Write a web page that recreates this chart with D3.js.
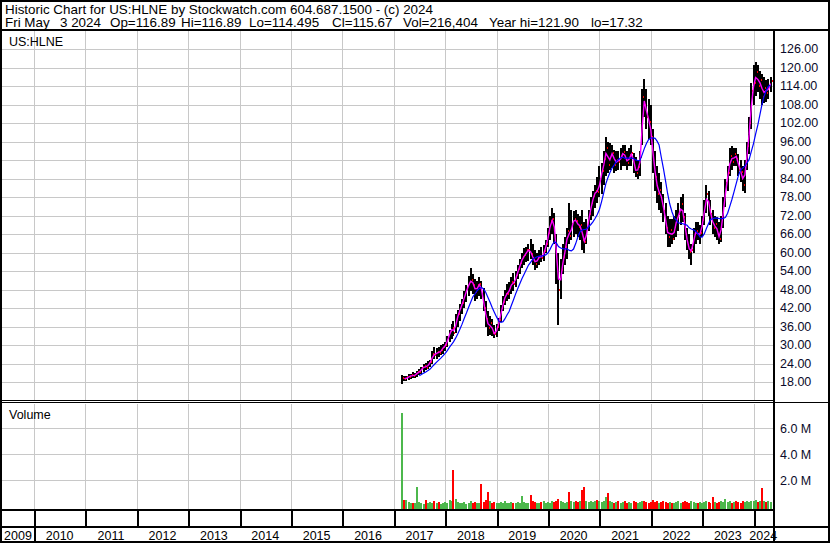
<!DOCTYPE html>
<html>
<head>
<meta charset="utf-8">
<script src="https://cdn.jsdelivr.net/npm/d3@7"></script>
<style>
  body { margin: 0; background: #fff; }
  svg text { font-family: "Liberation Sans", Arial, sans-serif; font-size: 12.5px; fill: #000; }
</style>
</head>
<body>
<div id="chart"></div>
<script>
// ---- data (semi-monthly bars, 1st and 16th, from Mar 2017) ----
var yearLabels = [2009, 2010, 2011, 2012, 2013, 2014, 2015, 2016, 2017, 2018, 2019, 2020, 2021, 2022, 2023, 2024];
var priceTicks = [18, 24, 30, 36, 42, 48, 54, 60, 66, 72, 78, 84, 90, 96, 102, 108, 114, 120, 126];
var volumeTicks = [2, 4, 6];   // millions
var firstBar = [2017, 2];      // year, month index of the first bar

var highs = [
  20.3, 20.0, 20.2, 20.6, 20.8, 21.2, 21.0, 21.8, 22.3, 23.0, 24.0, 24.2, 24.8, 25.2, 28.0, 29.5, 29.0, 29.6, 30.0, 30.4,
  31.0, 33.0, 35.0, 37.0, 38.0, 40.0, 41.5, 43.5, 45.0, 47.5, 49.5, 52.5, 55.0, 53.0, 51.5, 51.0, 52.0, 51.0, 48.5, 44.5, 41.0, 39.5, 38.5, 36.5,
  37.0, 39.0, 43.0, 46.0, 48.0, 50.0, 50.5, 52.0, 53.5, 54.0, 56.0, 58.0, 60.0, 61.5, 62.0, 63.0, 64.5, 63.0, 61.0, 60.0, 61.0, 62.0, 62.5, 64.0,
  68.0, 72.0, 74.5, 73.0, 66.0, 60.0, 58.0, 63.0, 65.0, 68.0, 76.0, 74.0, 73.5, 74.0, 72.5, 72.0, 74.0, 70.0, 71.0, 74.0, 78.0, 80.0, 82.0, 84.6,
  88.0, 89.0, 93.0, 97.4, 96.0, 95.5, 95.0, 93.5, 93.0, 93.0, 94.0, 95.0, 95.0, 93.0, 94.0, 95.0, 92.5, 91.0, 90.0, 93.0, 113.0, 116.3, 113.0, 110.0,
  108.0, 100.0, 93.0, 88.0, 86.0, 83.0, 79.0, 76.0, 72.0, 71.0, 71.0, 72.0, 74.0, 76.0, 78.0, 79.0, 73.0, 68.0, 66.0, 63.0, 68.0, 70.0, 70.0, 69.0,
  72.0, 77.0, 82.0, 80.0, 77.0, 74.0, 72.0, 71.5, 70.0, 72.0, 78.0, 84.0, 88.0, 94.0, 94.5, 94.0, 94.0, 92.0, 90.0, 88.0, 90.0, 96.0, 104.0, 115.0,
  121.0, 121.9, 121.0, 119.0, 118.0, 117.0, 116.0, 116.5, 116.9
];
var lows = [
  17.3, 18.4, 18.5, 18.9, 19.2, 19.4, 19.3, 19.8, 20.4, 20.8, 21.5, 22.0, 22.4, 23.0, 24.0, 25.6, 25.5, 26.2, 26.8, 27.2,
  28.0, 29.5, 31.0, 32.0, 33.0, 34.0, 36.0, 38.0, 40.0, 42.0, 44.0, 46.0, 47.5, 46.5, 44.5, 45.0, 46.0, 45.0, 41.0, 36.0, 33.0, 33.5, 33.0, 32.3,
  32.6, 34.5, 37.5, 41.0, 43.0, 44.5, 45.0, 46.5, 47.5, 49.0, 51.5, 53.0, 55.0, 56.0, 57.0, 57.5, 58.0, 56.0, 54.5, 55.0, 56.0, 57.0, 57.5, 60.0,
  62.0, 64.0, 66.0, 63.0, 50.0, 36.5, 45.0, 53.0, 56.0, 58.0, 63.0, 64.0, 65.0, 66.0, 65.0, 64.0, 61.0, 60.0, 63.0, 67.0, 70.5, 72.0, 74.5, 76.0,
  78.0, 79.0, 82.0, 85.0, 86.0, 87.0, 87.5, 86.0, 86.5, 87.0, 87.0, 88.0, 88.0, 87.0, 88.0, 88.0, 86.0, 84.5, 84.0, 85.0, 95.0, 104.0, 100.0, 97.0,
  95.0, 86.0, 80.0, 76.0, 74.0, 73.0, 70.0, 66.0, 62.0, 62.0, 63.0, 64.0, 65.0, 67.0, 69.0, 70.0, 64.0, 61.0, 58.0, 56.0, 60.0, 63.0, 64.0, 63.0,
  65.0, 69.0, 73.0, 72.0, 69.0, 66.0, 65.0, 64.0, 63.0, 63.5, 68.0, 75.0, 80.0, 85.0, 87.0, 88.0, 88.0, 85.0, 83.0, 80.0, 79.3, 87.0, 92.0, 100.0,
  108.0, 111.0, 112.0, 110.0, 108.0, 108.5, 109.0, 110.0, 112.0
];
var closes = [
  19.4, 19.0, 19.6, 19.8, 20.3, 20.0, 20.6, 21.2, 21.5, 22.6, 23.2, 22.8, 24.1, 24.6, 27.2, 26.8, 27.9, 27.5, 28.6, 29.5,
  30.2, 32.4, 34.5, 35.6, 34.0, 38.5, 40.2, 42.6, 43.8, 46.8, 48.2, 50.4, 51.2, 49.5, 47.2, 49.6, 49.8, 46.5, 42.0, 38.5, 35.5, 37.2, 34.0, 33.6,
  35.8, 38.2, 42.0, 44.2, 46.5, 46.8, 48.5, 50.6, 49.8, 52.8, 54.6, 56.8, 58.5, 59.2, 60.8, 61.0, 59.5, 57.8, 56.5, 58.2, 59.0, 58.4, 60.6, 62.8,
  66.5, 70.2, 71.0, 65.5, 55.0, 48.0, 54.5, 58.5, 62.0, 67.0, 65.5, 69.5, 71.0, 70.2, 68.4, 69.0, 64.0, 63.5, 68.0, 72.5, 76.0, 78.5, 80.2, 79.6,
  84.0, 86.5, 90.5, 94.0, 88.5, 91.8, 92.5, 88.6, 90.2, 89.5, 91.5, 92.8, 90.5, 89.2, 91.6, 92.4, 87.6, 86.0, 87.8, 91.0, 110.5, 108.0, 104.2, 102.5,
  97.5, 88.0, 84.5, 79.0, 80.5, 76.2, 73.5, 68.2, 65.0, 67.5, 64.6, 68.5, 71.2, 72.5, 75.8, 71.5, 66.2, 62.5, 60.2, 61.0, 66.2, 67.0, 65.5, 66.5,
  70.8, 75.5, 79.2, 74.0, 72.5, 68.0, 69.5, 66.0, 64.5, 70.5, 76.2, 82.5, 86.0, 91.5, 89.6, 92.0, 90.5, 87.0, 86.2, 82.0, 88.5, 94.8, 102.0, 112.5,
  115.2, 118.5, 114.0, 116.2, 110.5, 113.5, 111.8, 114.2, 115.67
];
var volumes = [
  7.2, 0.45, 0.5, 0.3, 0.2, 0.25, 0.2, 1.5, 0.3, 0.2, 0.15, 0.45, 0.2, 0.3, 0.25, 0.35, 0.2, 0.3, 0.15, 0.25,
  0.3, 0.2, 0.45, 0.35, 2.8, 0.55, 0.3, 0.25, 0.2, 0.3, 0.15, 0.25, 0.35, 0.2, 0.3, 0.2, 0.25, 1.7, 0.3, 0.45, 1.1, 0.35, 0.25, 0.3,
  0.25, 0.2, 0.3, 0.2, 0.35, 0.25, 0.2, 0.3, 0.2, 0.25, 0.3, 0.2, 0.75, 0.3, 0.2, 0.25, 0.85, 0.4, 0.3, 0.25, 0.2, 0.3, 0.35, 0.25,
  0.3, 0.25, 0.35, 0.3, 0.4, 0.55, 0.35, 0.3, 0.25, 0.3, 1.1, 0.35, 0.3, 0.4, 0.3, 0.35, 1.2, 1.5, 0.4, 0.3, 0.35, 0.3, 0.4, 0.5,
  0.35, 0.3, 0.4, 0.7, 1.0, 0.35, 0.3, 0.25, 0.3, 0.35, 0.25, 0.3, 0.35, 0.2, 0.3, 0.25, 0.35, 0.3, 0.25, 0.3, 0.4, 0.35, 0.3, 0.25,
  0.3, 0.45, 0.3, 0.35, 0.25, 0.3, 0.35, 0.3, 0.25, 0.3, 0.2, 0.25, 0.3, 0.35, 0.25, 0.3, 0.35, 0.3, 0.25, 0.35, 0.3, 0.25, 0.2, 0.3,
  0.25, 0.3, 0.35, 0.3, 0.25, 0.7, 0.3, 0.25, 0.3, 0.35, 0.3, 0.55, 0.3, 0.35, 0.25, 0.3, 0.35, 0.3, 0.25, 0.4, 0.3, 0.35, 0.3, 0.4,
  0.35, 0.45, 0.3, 0.4, 1.4, 0.35, 0.3, 0.35, 0.3
];

var headerLine1 = "Historic Chart for US:HLNE by Stockwatch.com 604.687.1500 - (c) 2024";
var headerLine2 = [["Fri May", 5], ["3 2024", 60], ["Op=116.89", 110], ["Hi=116.89", 181],
  ["Lo=114.495", 249], ["Cl=115.67", 332], ["Vol=216,404", 403], ["Year hi=121.90", 489], ["lo=17.32", 591]];

// ---- layout ----
var svgWidth = 830, svgHeight = 543;
var plotLeft = 2, plotRight = 773;
var priceTop = 31, priceBottom = 400;
var volTop = 404, volBottom = 509;

var svg = d3.select("#chart").append("svg")
  .attr("width", svgWidth)
  .attr("height", svgHeight)
  .style("display", "block");

svg.append("rect").attr("width", svgWidth).attr("height", svgHeight).attr("fill", "#fff");

var bars = highs.map(function (h, i) {
  return {
    date: new Date(firstBar[0], firstBar[1] + Math.floor(i / 2), i % 2 ? 16 : 1),
    high: h, low: lows[i], close: closes[i], volume: volumes[i] * 1e6,
    up: i === 0 ? true : closes[i] >= closes[i - 1]
  };
});

function movingAverage(n) {
  var out = [];
  bars.forEach(function (d, i) {
    if (i < n - 1) return;
    out.push({ date: d.date, value: d3.mean(bars.slice(i - n + 1, i + 1), b => b.close) });
  });
  return out;
}

var x = d3.scaleTime()
  .domain([new Date(2010, 0, 1), new Date(2024, 0, 1)])
  .range([34, 753.5]);
var y = d3.scaleLinear().domain([18, 126]).range([382.3, 49.3]);
var yVol = d3.scaleLinear().domain([0, 6e6]).range([506, 428.3]);

var yearStarts = d3.range(2010, 2025).map(yr => new Date(yr, 0, 1));

// clip paths
var defs = svg.append("defs");
defs.append("clipPath").attr("id", "clipPrice").append("rect")
  .attr("x", plotLeft).attr("y", priceTop).attr("width", plotRight - plotLeft).attr("height", priceBottom - priceTop);

// ---- grid ----
var grid = svg.append("g").attr("stroke", "#c8c8c8").attr("stroke-width", 1).attr("shape-rendering", "crispEdges");
yearStarts.forEach(function (d) {
  var gx = Math.round(x(d)) + 0.5;
  grid.append("line").attr("x1", gx).attr("x2", gx).attr("y1", priceTop).attr("y2", priceBottom);
  grid.append("line").attr("x1", gx).attr("x2", gx).attr("y1", volTop).attr("y2", volBottom);
});
priceTicks.forEach(function (p) {
  var gy = Math.round(y(p)) + 0.5;
  grid.append("line").attr("x1", plotLeft).attr("x2", plotRight).attr("y1", gy).attr("y2", gy);
});
volumeTicks.forEach(function (v) {
  var gy = Math.round(yVol(v * 1e6)) + 0.5;
  grid.append("line").attr("x1", plotLeft).attr("x2", plotRight).attr("y1", gy).attr("y2", gy);
});

// ---- price bars ----
var price = svg.append("g").attr("clip-path", "url(#clipPrice)").attr("shape-rendering", "crispEdges");
price.selectAll("rect.bar").data(bars).enter().append("rect")
  .attr("class", "bar")
  .attr("x", d => Math.round(x(d.date)) - 1)
  .attr("y", d => Math.round(y(d.high)))
  .attr("width", 2)
  .attr("height", d => Math.max(1, Math.round(y(d.low)) - Math.round(y(d.high))))
  .attr("fill", "#000");
price.selectAll("rect.tick").data(bars).enter().append("rect")
  .attr("class", "tick")
  .attr("x", d => Math.round(x(d.date)) + 1)
  .attr("y", d => Math.round(y(d.close)) - 1)
  .attr("width", 1)
  .attr("height", 2)
  .attr("fill", "#ff0000");

var line = d3.line().x(d => x(d.date)).y(d => y(d.value));
price.append("path").datum(movingAverage(2))
  .attr("d", line).attr("fill", "none").attr("stroke", "#ff00ff").attr("stroke-width", 1.4)
  .attr("shape-rendering", "auto");
price.append("path").datum(movingAverage(9))
  .attr("d", line).attr("fill", "none").attr("stroke", "#0000ff").attr("stroke-width", 1.2)
  .attr("shape-rendering", "auto");

// ---- volume bars ----
svg.append("g").attr("shape-rendering", "crispEdges")
  .selectAll("rect").data(bars).enter().append("rect")
  .attr("x", d => Math.round(x(d.date)) - 1)
  .attr("y", d => Math.round(yVol(d.volume)))
  .attr("width", 2)
  .attr("height", d => volBottom - Math.round(yVol(d.volume)))
  .attr("fill", d => d.up ? "#4cb84c" : "#ff0000");

// ---- frame lines ----
var frame = svg.append("g").attr("stroke", "#000").attr("shape-rendering", "crispEdges");
frame.append("rect").attr("x", 1).attr("y", 1).attr("width", svgWidth - 2).attr("height", svgHeight - 2)
  .attr("fill", "none").attr("stroke-width", 2);
frame.append("line").attr("x1", 0).attr("x2", svgWidth).attr("y1", 30).attr("y2", 30).attr("stroke-width", 2);
frame.append("line").attr("x1", 774).attr("x2", 774).attr("y1", 30).attr("y2", svgHeight).attr("stroke-width", 2);
frame.append("line").attr("x1", 0).attr("x2", 774).attr("y1", 400.5).attr("y2", 400.5).attr("stroke-width", 1);
frame.append("line").attr("x1", 0).attr("x2", svgWidth).attr("y1", 402.5).attr("y2", 402.5).attr("stroke-width", 1);
frame.append("line").attr("x1", 0).attr("x2", 774).attr("y1", 510).attr("y2", 510).attr("stroke-width", 2);
frame.append("line").attr("x1", 0).attr("x2", svgWidth).attr("y1", 527).attr("y2", 527).attr("stroke-width", 2);
yearStarts.forEach(function (d) {
  var gx = Math.round(x(d)) + 0.5;
  frame.append("line").attr("x1", gx).attr("x2", gx).attr("y1", 510).attr("y2", 527).attr("stroke-width", 2);
});
frame.append("line").attr("x1", Math.round(x(yearStarts[0])) + 0.5).attr("x2", Math.round(x(yearStarts[0])) + 0.5)
  .attr("y1", 527).attr("y2", svgHeight).attr("stroke-width", 2);

// ---- text ----
svg.append("text").attr("x", 5).attr("y", 13.5).style("font-size", "13.4px").text(headerLine1);
svg.selectAll("text.h2").data(headerLine2).enter().append("text")
  .attr("class", "h2").attr("x", d => d[1]).attr("y", 27).style("font-size", "13.4px")
  .style("white-space", "pre").text(d => d[0]);

svg.append("text").attr("x", 9).attr("y", 46).text("US:HLNE");
svg.append("text").attr("x", 9).attr("y", 418.5).text("Volume");

svg.selectAll("text.pt").data(priceTicks).enter().append("text")
  .attr("class", "pt").attr("x", 780).attr("y", d => y(d) + 4)
  .style("fill", "#0a0a2a").text(d => d3.format(".2f")(d));
svg.selectAll("text.vt").data(volumeTicks).enter().append("text")
  .attr("class", "vt").attr("x", 780).attr("y", d => yVol(d * 1e6) + 4.5)
  .style("fill", "#0a0a2a").text(d => d3.format(".1f")(d) + " M");

var cellEdges = [plotLeft].concat(yearStarts.map(d => x(d)), [plotRight]);
svg.selectAll("text.yr").data(yearLabels).enter().append("text")
  .attr("class", "yr")
  .attr("x", (d, i) => (cellEdges[i] + cellEdges[i + 1]) / 2)
  .attr("y", 539.5)
  .attr("text-anchor", "middle")
  .text(d => d);
</script>
</body>
</html>
